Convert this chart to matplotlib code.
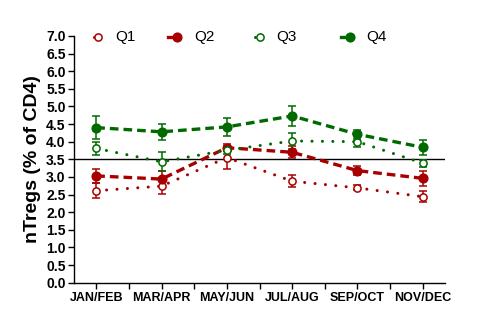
import matplotlib
matplotlib.use("Agg")
import matplotlib.pyplot as plt
import numpy as np

plt.rcParams['font.family'] = ['Liberation Sans', 'DejaVu Sans']

categories = ["JAN/FEB", "MAR/APR", "MAY/JUN", "JUL/AUG", "SEP/OCT", "NOV/DEC"]
q1 = [2.61, 2.74, 3.55, 2.88, 2.69, 2.44]
q1_err = [0.22, 0.22, 0.33, 0.17, 0.07, 0.16]
q2 = [3.03, 2.94, 3.83, 3.70, 3.18, 2.96]
q2_err = [0.20, 0.22, 0.10, 0.17, 0.13, 0.21]
q3 = [3.81, 3.43, 3.76, 4.02, 4.00, 3.39]
q3_err = [0.19, 0.27, 0.10, 0.22, 0.15, 0.10]
q4 = [4.40, 4.28, 4.42, 4.73, 4.21, 3.84]
q4_err = [0.33, 0.22, 0.25, 0.28, 0.13, 0.21]
reference_line = 3.5
yticks = np.arange(0, 7.01, 0.5)

red = '#A80000'
green = '#006A00'

fig = plt.figure(figsize=(4.95, 3.25), dpi=100)
ax = fig.add_axes([0.1495, 0.130, 0.7495, 0.7595])
x = np.arange(len(categories))

dotted = (0, (0.01, 3.4))
dashed = (0, (2.6, 1.5))
series = [
    ("Q1", q1, q1_err, red, False, dotted),
    ("Q2", q2, q2_err, red, True, dashed),
    ("Q3", q3, q3_err, green, False, dotted),
    ("Q4", q4, q4_err, green, True, dashed),
]
legend_x = [0.065, 0.278, 0.501, 0.744]
legend_y = 0.995

for (name, vals, err, col, filled, ls), lx in zip(series, legend_x):
    ax.errorbar(x, vals, yerr=err, fmt='none', ecolor=col, elinewidth=1.1,
                capsize=3, capthick=1.1, zorder=3)
    lw = 2.4 if filled else 2.2
    ms = 6.2 if filled else 5.2
    cap = 'round' if not filled else 'butt'
    style = dict(color=col, linestyle=ls, linewidth=lw, marker='o', markersize=ms,
                 markerfacecolor=col if filled else 'white', markeredgecolor=col,
                 markeredgewidth=1.1, dash_capstyle=cap)
    ax.plot(x, vals, zorder=4, **style)
    # legend entry: short line segment with marker at its right end
    seg = 0.025 if filled else 0.012
    style_leg = dict(style)
    style_leg['linestyle'] = '-' if filled else ls
    ax.plot([lx - seg, lx], [legend_y, legend_y], transform=ax.transAxes,
            clip_on=False, markevery=[1], zorder=5, **style_leg)
    ax.text(lx + 0.045, legend_y, name, transform=ax.transAxes, fontsize=11,
            va='center', ha='left')

ax.axhline(reference_line, color='black', linewidth=1.0, zorder=2)

ax.set_xlim(-0.34, 5.34)
ax.set_ylim(0, 7.0)
ax.set_yticks(yticks)
ax.set_yticklabels([f"{v:.1f}" for v in yticks], fontweight='bold', fontsize=10)
ax.set_xticks(x)
ax.set_xticklabels(categories, fontweight='bold', fontsize=9)
ax.set_xticks(x[:-1] + 0.5, minor=True)
ax.tick_params(axis='both', which='both', direction='out', length=4, width=1, pad=2)
ax.tick_params(axis='x', which='major', pad=3)
for s in ['top', 'right']:
    ax.spines[s].set_visible(False)
ax.spines['left'].set_linewidth(1.0)
ax.spines['bottom'].set_linewidth(1.0)

ax.set_ylabel("nTregs (% of CD4)", fontsize=14, fontweight='bold', labelpad=4)

fig.savefig("out.png", dpi=100)
